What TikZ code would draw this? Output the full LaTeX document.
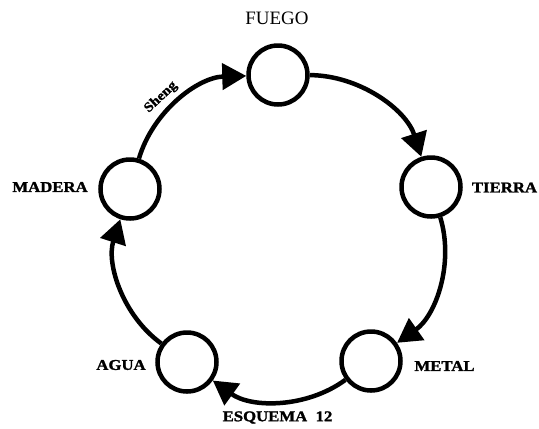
\documentclass[tikz,border=0pt]{standalone}
\usepackage{fontspec}
\setmainfont{Liberation Serif}
\newfontfamily\lblfont{Liberation Serif}[FakeStretch=1.12, BoldFeatures={FakeBold=1.5}]
\usetikzlibrary{arrows.meta}
\begin{document}
\begin{tikzpicture}[x=1bp,y=-1bp,
  elem/.style={circle, draw, line width=4.5bp, minimum size=59bp, inner sep=0pt},
  lbl/.style={font=\lblfont\bfseries\fontsize{15}{18}\selectfont, inner sep=0pt},
  flow/.style={line width=4.5bp, -{Triangle[length=24bp,width=26bp]}, bend left=36, looseness=0.92}
]
\useasboundingbox (0,0) rectangle (539,428);
\node[elem] (fuego) at (278,75) {};
\node[elem] (tierra) at (431,187) {};
\node[elem] (metal) at (371,361) {};
\node[elem] (agua) at (187,362) {};
\node[elem] (madera) at (130,189) {};
\node[font=\fontsize{19}{22}\selectfont, inner sep=0pt] (tfuego) at (277,18.5) {FUEGO};
\node[lbl] (ttierra) at (504.5,187.5) {TIERRA};
\node[lbl] (tmetal) at (444.5,366) {METAL};
\node[lbl] (tagua) at (121,365) {AGUA};
\node[lbl] (tmadera) at (50,187) {MADERA};
\node[lbl] (tesq) at (277.5,417.5) {ESQUEMA\ \ 12};
\draw[flow] (madera) to node[pos=0.42, sloped, above=6bp, font=\lblfont\bfseries\fontsize{13.5}{15}\selectfont, inner sep=0pt] (tsheng) {Sheng} (fuego);
\draw[flow] (fuego) to (tierra);
\draw[flow] (tierra) to (metal);
\draw[flow] (metal) to (agua);
\draw[flow] (agua) to (madera);
\end{tikzpicture}
\end{document}
